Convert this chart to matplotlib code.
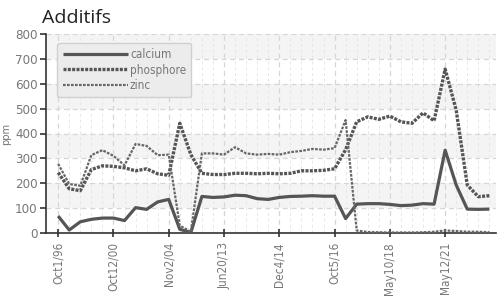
import matplotlib
matplotlib.use("Agg")
import matplotlib.pyplot as plt
from matplotlib.ticker import MultipleLocator, FixedLocator

plt.rcParams['font.family'] = ['DejaVu Sans']
plt.rcParams['font.stretch'] = 'condensed'

labels = ["Oct1/96", "Oct12/00", "Nov2/04", "Jun20/13", "Dec4/14", "Oct5/16", "May10/18", "May12/21"]
calcium = [68, 12, 45, 55, 60, 60, 50, 102, 95, 125, 135, 15, 2, 147, 143, 145, 152, 150, 138, 135,
           143, 147, 148, 150, 148, 148, 58, 116, 118, 118, 115, 110, 112, 118, 116, 333, 193, 96, 95, 96]
phosphore = [243, 178, 170, 255, 270, 268, 262, 250, 258, 238, 232, 441, 315, 240, 235, 235, 240, 240, 238, 240,
             238, 240, 250, 250, 252, 258, 335, 447, 467, 457, 470, 447, 441, 483, 451, 659, 494, 193, 146, 150]
zinc = [278, 197, 190, 313, 333, 310, 272, 358, 350, 313, 315, 30, 5, 320, 320, 315, 345, 320, 315, 318,
        315, 325, 330, 338, 335, 341, 454, 10, 4, 3, 2, 2, 2, 3, 5, 10, 8, 5, 5, 3]

n = len(calcium)
x = list(range(n))
tick_idx = [i * 5 for i in range(len(labels))]

fig = plt.figure(figsize=(4.98, 2.96), dpi=100)
ax = fig.add_axes([46/498, 63/296, 450/498, 199/296])

for k in range(8):
    lo = k * 100
    if k % 2 == 1:
        ax.axhspan(lo, lo + 100, color='#f4f4f4', zorder=0, lw=0)

col = '#555555'
ax.plot(x, calcium, color=col, lw=2.3, solid_capstyle='butt', label='calcium', zorder=3)
ax.plot(x, phosphore, color=col, lw=2.4, linestyle=(0, (0.9, 0.4)), label='phosphore', zorder=3)
ax.plot(x, zinc, color='#666666', lw=1.6, linestyle=(0, (1.2, 0.6)), label='zinc', zorder=3)

ax.set_xlim(-1.1, 39.6)
ax.set_ylim(0, 800)
ax.yaxis.set_major_locator(MultipleLocator(100))
ax.set_xticks(tick_idx)
ax.set_xticklabels(labels, rotation=90, color='#777777', fontsize=8.5)
ax.xaxis.set_minor_locator(FixedLocator([i for i in range(n) if i not in tick_idx]))
ax.tick_params(axis='y', colors='#333333', labelcolor='#777777', labelsize=9.5, length=4, width=1.2, pad=2)
ax.tick_params(axis='x', which='major', colors='#333333', labelcolor='#777777', length=6, width=1.2, direction='inout')
ax.tick_params(axis='x', which='minor', length=0)

ax.grid(True, which='major', axis='both', color='#d6d6d6', linestyle=(0, (4, 3)), lw=0.9, zorder=1)
ax.grid(True, which='minor', axis='x', color='#e6e6e6', linestyle=(0, (3, 3)), lw=0.7, zorder=1)
ax.set_axisbelow(True)

for s in ['top', 'right']:
    ax.spines[s].set_visible(False)
for s in ['left', 'bottom']:
    ax.spines[s].set_color('#333333')
    ax.spines[s].set_linewidth(1.2)

ax.set_ylabel('ppm', color='#777777', fontsize=8, labelpad=3)
fig.text(42/498, 1 - 18/296, 'Additifs', fontsize=14, color='#222222', va='center', ha='left',
         family=['Open Sans'], stretch='normal')

leg = ax.legend(loc='upper left', bbox_to_anchor=(0.012, 0.985), frameon=True, fancybox=True,
                shadow=False, fontsize=8.5, handlelength=5.5, handletextpad=0.2,
                labelspacing=0.2, borderpad=0.45, labelcolor='#777777')
leg.get_frame().set_facecolor('#ececec')
leg.get_frame().set_edgecolor('#d0d0d0')
leg.get_frame().set_alpha(1)

fig.savefig('out.png', dpi=100)
